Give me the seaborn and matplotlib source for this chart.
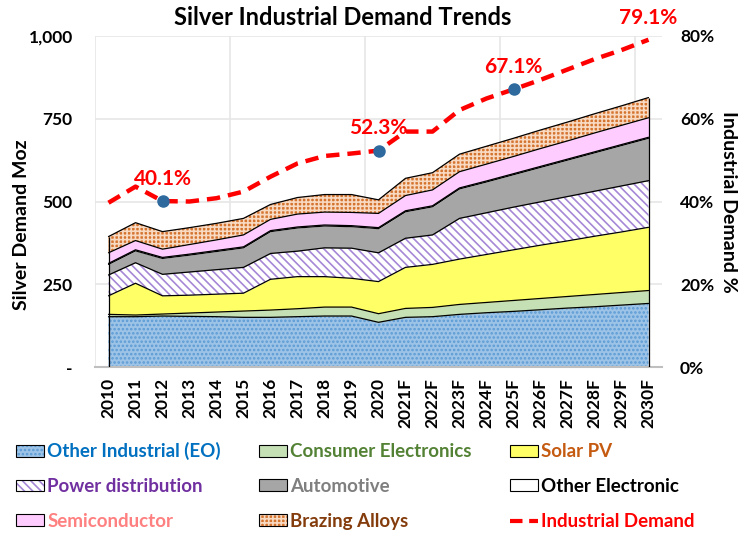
import matplotlib
matplotlib.use("Agg")
import matplotlib.pyplot as plt
import seaborn as sns
import numpy as np
import pandas as pd
from matplotlib.patches import Patch
from matplotlib.lines import Line2D
from matplotlib.legend_handler import HandlerTuple

# ---- data ----
years = ["2010", "2011", "2012", "2013", "2014", "2015", "2016", "2017", "2018", "2019",
         "2020", "2021F", "2022F", "2023F", "2024F", "2025F", "2026F", "2027F", "2028F",
         "2029F", "2030F"]

other_industrial = [152, 152, 154, 153, 152, 150, 150, 152, 154, 154, 135, 150, 152, 159, 164, 168, 173, 178, 182, 187, 192]
consumer_elec = [7, 5, 6, 10, 14, 19, 22, 24, 27, 27, 26, 27, 28, 30, 31, 33, 34, 35, 37, 38, 39]
solar_pv = [56, 96, 55, 54, 54, 54, 93, 97, 92, 87, 97, 124, 130, 137, 145, 153, 161, 168, 176, 183, 191]
power_dist = [63, 62, 65, 70, 74, 78, 78, 77, 87, 91, 87, 88, 89, 123, 126, 129, 131, 134, 136, 139, 141]
automotive = [32, 36, 48, 51, 55, 59, 66, 70, 66, 65, 73, 80, 85, 89, 93, 98, 104, 110, 116, 122, 128]
other_elec = [3, 3, 3, 3, 3, 3, 3, 3, 3, 3, 3, 3, 3, 3, 3, 3, 3, 3, 3, 3, 3]
semiconductor = [32, 28, 25, 29, 32, 36, 34, 39, 39, 40, 43, 46, 48, 49, 51, 52, 54, 55, 57, 58, 59]
brazing = [49, 54, 53, 51, 50, 50, 45, 50, 53, 54, 41, 52, 52, 53, 54, 55, 56, 57, 58, 59, 61]

industrial_pct = [39.7, 43.6, 40.1, 40.0, 40.8, 42.4, 46.0, 49.2, 51.0, 51.6, 52.3, 56.9, 56.9,
                  62.1, 64.9, 67.1, 69.4, 71.9, 74.4, 76.6, 79.1]
labelled_years = ["2012", "2020", "2025F", "2030F"]
marker_years = ["2012", "2020", "2025F"]

# ---- styles: name, values, face, hatch, hatch colour, legend text colour ----
layers = [
    ("Other Industrial (EO)", other_industrial, "#9DC3E6", "....", "#5B9BD5", "#0070C0"),
    ("Consumer Electronics", consumer_elec, "#C5E0B4", None, None, "#548235"),
    ("Solar PV", solar_pv, "#FFFF66", None, None, "#C55A11"),
    ("Power distribution", power_dist, "white", "\\\\\\\\", "#A587D6", "#7030A0"),
    ("Automotive", automotive, "#A6A6A6", None, None, "#7F7F7F"),
    ("Other Electronic", other_elec, "white", None, None, "black"),
    ("Semiconductor", semiconductor, "#FFCCFF", None, None, "#FF8080"),
    ("Brazing Alloys", brazing, "#D4742E", "++++", "#F8D9C2", "#843C0C"),
]

sns.set_style("white")
plt.rcParams["font.family"] = ["Lato", "DejaVu Sans"]
plt.rcParams["font.weight"] = "bold"
plt.rcParams["text.color"] = "black"
plt.rcParams["xtick.color"] = "black"
plt.rcParams["ytick.color"] = "black"
plt.rcParams["axes.labelcolor"] = "black"
plt.rcParams["hatch.linewidth"] = 1.2

fig = plt.figure(figsize=(7.44, 5.35), dpi=100)
ax = fig.add_axes([95 / 744, 1 - 367 / 535, (662 - 95) / 744, (367 - 36) / 535])

x = np.arange(len(years))
base = np.zeros(len(years))
for name, vals, face, hatch, hcol, tcol in layers:
    top = base + np.array(vals)
    ax.fill_between(x, base, top, facecolor=face, hatch=hatch,
                    edgecolor=hcol if hcol else face, linewidth=0, zorder=2)
    ax.plot(x, top, color="black", lw=0.9, zorder=3)
    base = top
ax.vlines([x[0], x[-1]], 0, [base[0], base[-1]], color="black", lw=0.9, zorder=3)

ax.set_xlim(-0.5, len(years) - 0.5)
ax.set_ylim(0, 1000)
ax.set_yticks([0, 250, 500, 750, 1000])
ax.set_yticklabels(["-", "250", "500", "750", "1,000"], fontsize=12.5, fontweight="bold")
ax.set_xticks(x)
ax.set_xticklabels(years, rotation=90, fontsize=12.5, fontweight="bold")
ax.tick_params(axis="y", length=0, pad=16)
ax.tick_params(axis="x", length=0, pad=8)
ax.set_xticks([-0.5, 4.5, 9.5, 14.5, 19.5], minor=True)
ax.tick_params(axis="x", which="minor", length=6, color="#D9D9D9")
ax.grid(axis="y", color="#E6E6E6", lw=1.2, zorder=0)
ax.grid(axis="x", which="minor", color="#E6E6E6", lw=1.2, zorder=0)
ax.set_axisbelow(True)
for s in ["top", "right", "left"]:
    ax.spines[s].set_visible(False)
ax.spines["bottom"].set_color("#BFBFBF")
ax.spines["bottom"].set_linewidth(1.5)
ax.set_ylabel("Silver Demand Moz", fontsize=14, fontweight="bold", va="center")
ax.yaxis.set_label_coords(-0.129, 0.43)

# secondary axis: industrial demand %
ax2 = ax.twinx()
df = pd.DataFrame({"x": x, "pct": industrial_pct})
sns.lineplot(data=df, x="x", y="pct", ax=ax2, color="#FF0000", lw=3.2,
             linestyle=(0, (3, 1.8)), zorder=5)
for yr in marker_years:
    i = years.index(yr)
    ax2.plot(x[i], industrial_pct[i], "o", color="#2E6A9E", ms=8, zorder=6)
for yr in labelled_years:
    i = years.index(yr)
    ax2.annotate(f"{industrial_pct[i]:.1f}%", (x[i], industrial_pct[i]),
                 xytext=(0, 16), textcoords="offset points", ha="center", va="center",
                 color="#FF0000", fontsize=15, fontweight="bold")
ax2.set_ylim(0, 80)
ax2.set_yticks([0, 20, 40, 60, 80])
ax2.set_yticklabels(["0%", "20%", "40%", "60%", "80%"], fontsize=12.5, fontweight="bold")
ax2.tick_params(axis="y", length=0, pad=13)
ax2.set_xlabel("")
ax2.set_ylabel("Industrial Demand %", fontsize=14, fontweight="bold", rotation=-90, va="center")
ax2.yaxis.set_label_coords(1.117, 0.50)
for s in ax2.spines.values():
    s.set_visible(False)

fig.text(0.46, 0.968, "Silver Industrial Demand Trends", ha="center", va="center",
         fontsize=17, fontweight="bold")

# legend
handles, labels, colors = [], [], []
for name, vals, face, hatch, hcol, tcol in layers:
    fill = Patch(facecolor=face, hatch=hatch, edgecolor=hcol if hcol else face, lw=0)
    border = Patch(fill=False, edgecolor="black", lw=0.8)
    handles.append((fill, border))
    labels.append(name)
    colors.append(tcol)
handles.append(Line2D([0], [0], color="#FF0000", lw=3, linestyle=(0, (3, 1.6))))
labels.append("Industrial Demand")
colors.append("#FF0000")
# arrange row-wise for 3 columns
idx = [0, 3, 6, 1, 4, 7, 2, 5, 8]
leg = fig.legend([handles[i] for i in idx], [labels[i] for i in idx], ncol=3,
                 loc="lower left", bbox_to_anchor=(-0.001, -0.022), frameon=False,
                 fontsize=13.5, handlelength=1.5, handleheight=0.6, handletextpad=0.15,
                 columnspacing=2.05, labelspacing=0.95,
                 handler_map={tuple: HandlerTuple(ndivide=1, pad=0)})
for t, i in zip(leg.get_texts(), idx):
    t.set_color(colors[i])
    t.set_fontweight("bold")

fig.savefig("out.png", dpi=100)
